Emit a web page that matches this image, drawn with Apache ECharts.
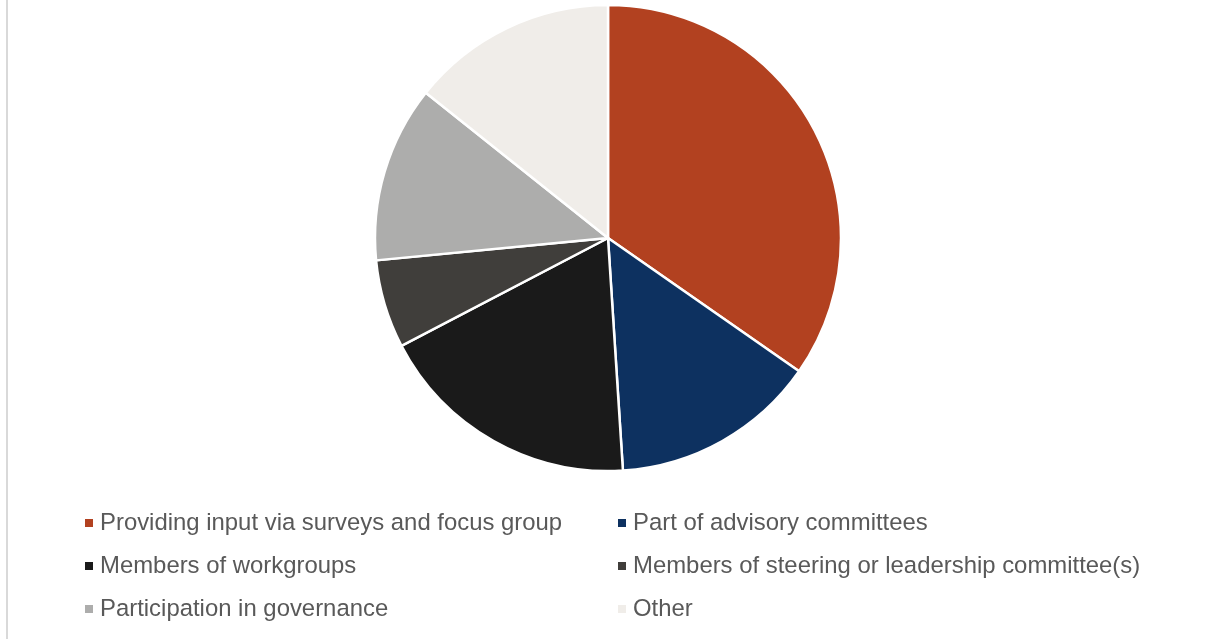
<!DOCTYPE html>
<html>
<head>
<meta charset="utf-8">
<title>Involvement</title>
<script src="https://cdn.jsdelivr.net/npm/echarts@6/dist/echarts.min.js"></script>
<style>
    html, body { margin: 0; padding: 0; background: #fff; }
    #chart { width: 1207px; height: 639px; }
</style>
</head>
<body>
<div id="chart"></div>
<script>
// slice names, counts and colours, clockwise from 12 o'clock
var categories = [
    'Providing input via surveys and focus group',
    'Part of advisory committees',
    'Members of workgroups',
    'Members of steering or leadership committee(s)',
    'Participation in governance',
    'Other'
];
var values = [17, 7, 9, 3, 6, 7];
var colors = ['#B24120', '#0D3160', '#1A1A1A', '#403E3B', '#ADADAC', '#F0EDE9'];

// legend is two columns, read down
var leftColumn = [categories[0], categories[2], categories[4]];
var rightColumn = [categories[1], categories[3], categories[5]];

var myChart = echarts.init(document.getElementById('chart'));

var legendText = {
    color: '#595959',
    fontSize: 23.9,
    fontFamily: 'Liberation Sans, Arial, sans-serif',
    lineHeight: 24,
    padding: [0, 0, 0, 2]
};

function makeLegend(x, names) {
    return {
        orient: 'vertical',
        left: x,
        top: 511,
        padding: 0,
        itemWidth: 8,
        itemHeight: 8,
        itemGap: 19,
        icon: 'rect',
        itemStyle: { borderWidth: 0 },
        data: names,
        textStyle: legendText
    };
}

var pieData = [];
for (var i = 0; i < categories.length; i++) {
    pieData.push({
        name: categories[i],
        value: values[i],
        itemStyle: { color: colors[i] }
    });
}

var option = {
    backgroundColor: '#fff',
    animation: false,
    legend: [makeLegend(85, leftColumn), makeLegend(618, rightColumn)],
    graphic: [{
        type: 'rect',
        shape: { x: 6, y: 0, width: 2, height: 639 },
        style: { fill: '#D9D9D9' },
        silent: true
    }],
    series: [{
        name: 'involvement',
        type: 'pie',
        center: [608, 238],
        radius: [0, 233],
        startAngle: 90,
        clockwise: true,
        label: { show: false },
        labelLine: { show: false },
        itemStyle: {
            borderColor: '#fff',
            borderWidth: 2.5
        },
        emphasis: { disabled: true },
        data: pieData
    }]
};

myChart.setOption(option, true);
</script>
</body>
</html>
